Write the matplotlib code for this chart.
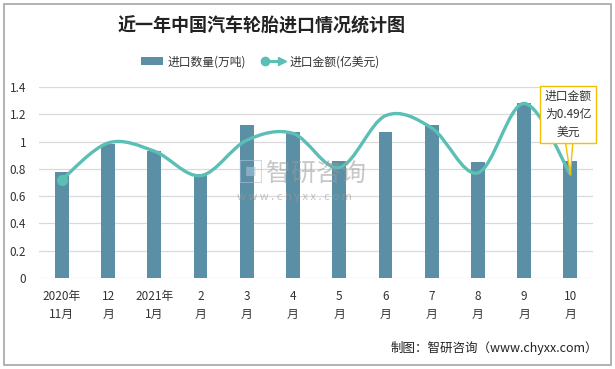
import matplotlib.pyplot as plt
import numpy as np
from matplotlib.path import Path
from matplotlib.patches import PathPatch, Rectangle
from matplotlib.lines import Line2D
from matplotlib.legend_handler import HandlerBase

plt.rcParams['font.family'] = ['Noto Sans CJK SC', 'DejaVu Sans']

months = ["2020年\n11月", "12\n月", "2021年\n1月", "2\n月", "3\n月", "4\n月",
          "5\n月", "6\n月", "7\n月", "8\n月", "9\n月", "10\n月"]
quantity = [0.78, 0.98, 0.93, 0.76, 1.12, 1.07, 0.86, 1.07, 1.12, 0.85, 1.28, 0.86]
amount = [0.72, 0.99, 0.93, 0.75, 1.01, 1.06, 0.81, 1.19, 1.10, 0.77, 1.28, 0.76]
callout_text = "进口金额\n为0.49亿\n美元"
bar_color = "#5b8fa5"
line_color = "#5bbfb5"


def smooth_path(xs, ys):
    # Excel-style smoothed line as cubic Bezier segments
    pts = np.column_stack([xs, ys]).astype(float)
    n = len(pts)
    verts = [pts[0]]
    codes = [Path.MOVETO]
    for i in range(n - 1):
        p0 = pts[i - 1] if i > 0 else pts[i]
        p1, p2 = pts[i], pts[i + 1]
        p3 = pts[i + 2] if i + 2 < n else pts[i + 1]
        c1 = p1 + (p2 - p0) / 6
        c2 = p2 - (p3 - p1) / 6
        verts += [c1, c2, p2]
        codes += [Path.CURVE4] * 3
    return Path(verts, codes)


class LineArrowHandler(HandlerBase):
    def create_artists(self, legend, orig_handle, xdescent, ydescent, width, height, fontsize, trans):
        y = height / 2 - ydescent
        line = Line2D([0, width * 0.8], [y, y], color=line_color, lw=2.2, transform=trans)
        dot = Line2D([width * 0.12], [y], marker="o", ms=6, color=line_color, transform=trans)
        head = Line2D([width * 0.85], [y], marker=">", ms=6, color=line_color, transform=trans)
        return [line, dot, head]


fig = plt.figure(figsize=(6.15, 3.69), dpi=100)
ax = fig.add_axes([0.063, 0.247, 0.902, 0.517])

x = np.arange(len(months))
bars = ax.bar(x, quantity, width=0.3, color=bar_color, zorder=2, label="进口数量(万吨)")
ax.add_patch(PathPatch(smooth_path(x, amount), fill=False, edgecolor=line_color, lw=2.4, zorder=3,
                       capstyle="round"))
ax.plot(x[0], amount[0], "o", color=line_color, ms=7, zorder=4)

ax.set_xlim(-0.5, len(months) - 0.5)
ax.set_ylim(0, 1.4)
ax.set_yticks(np.arange(0, 1.41, 0.2))
ax.set_yticklabels(["0", "0.2", "0.4", "0.6", "0.8", "1", "1.2", "1.4"])
ax.set_xticks(x)
ax.set_xticklabels(months, linespacing=1.5)
ax.tick_params(axis="both", length=0, labelsize=8.5, colors="#333333")
ax.tick_params(axis="y", pad=9)
ax.tick_params(axis="x", pad=9)
ax.grid(axis="y", color="#d9d9d9", lw=0.9, zorder=0)
ax.set_axisbelow(True)
for s in ax.spines.values():
    s.set_visible(False)

# callout on last point
ax.annotate(callout_text, xy=(x[-1], amount[-1]), xytext=(10.95, 1.2),
            ha="center", va="center", fontsize=8.5, color="#333333", linespacing=1.5,
            bbox=dict(boxstyle="square,pad=0.35", fc="white", ec="#f5c000", lw=1),
            arrowprops=dict(arrowstyle="wedge,tail_width=0.6", fc="white", ec="#f5c000", lw=1,
                            shrinkA=0, shrinkB=0),
            zorder=6)

# watermark
fig.text(0.384, 0.528, "▣", fontsize=20, color="#a9c4dc", alpha=0.6, ha="left", va="center")
fig.text(0.433, 0.528, "智研咨询", fontsize=18, color="#9a9a9a", alpha=0.55, ha="left", va="center")
fig.text(0.385, 0.466, "w w w . c h y x x . c o m", fontsize=8, color="#9a9a9a", alpha=0.6,
         ha="left", va="center")

fig.text(0.426, 0.93, "近一年中国汽车轮胎进口情况统计图", fontsize=13, fontweight="bold",
         color="#222222", ha="center", va="center")

handles = [bars, Line2D([], [], color=line_color)]
fig.legend(handles, ["进口数量(万吨)", "进口金额(亿美元)"], loc="center", bbox_to_anchor=(0.423, 0.833),
           ncol=2, frameon=False, fontsize=8.5, handlelength=1.9, columnspacing=1.4, handletextpad=0.35,
           handler_map={Line2D: LineArrowHandler()}, labelcolor="#333333")

fig.text(0.972, 0.056, "制图：智研咨询（www.chyxx.com）", fontsize=9, color="#222222",
         ha="right", va="center")

fig.add_artist(Rectangle((0.007, 0.011), 0.986, 0.978, transform=fig.transFigure, fill=False,
                         ec="#a6a6a6", lw=1.2))

fig.savefig("out.png", dpi=100)
